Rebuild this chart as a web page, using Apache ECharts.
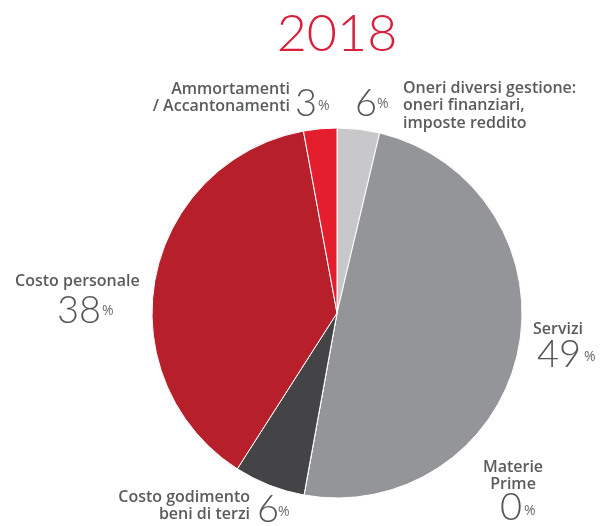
<!DOCTYPE html>
<html><head><meta charset="utf-8">
<script src="https://cdn.jsdelivr.net/npm/echarts@6/dist/echarts.min.js"></script>
<style>html,body{margin:0;padding:0;background:#fff}#c{width:600px;height:526px}</style>
</head><body><div id="c"></div>
<script>
var title = '2018';
var categories = ['Oneri diversi gestione', 'Servizi', 'Materie Prime', 'Costo godimento beni di terzi', 'Costo personale', 'Ammortamenti / Accantonamenti'];
var labelLines = [
  ['Oneri diversi gestione:', 'oneri finanziari,', 'imposte reddito'],
  ['Servizi'],
  ['Materie', 'Prime'],
  ['Costo godimento', 'beni di terzi'],
  ['Costo personale'],
  ['Ammortamenti', '/ Accantonamenti']
];
var values = [3.7, 49.1, 0, 6.2, 38.0, 2.9];
var shownPercent = [6, 49, 0, 6, 38, 3];
var colors = ['#c8c8ca', '#949598', '#a0a0a2', '#444446', '#b71f2b', '#e41e2d'];

var chart = echarts.init(document.getElementById('c'));
var LF = '"Open Sans", sans-serif';
var labelStyle = {fontFamily: LF, fontWeight: 600, fontSize: 16, fill: '#5a5b5d', lineHeight: 17};
var numStyle = {fontFamily: 'Lato, "Open Sans", sans-serif', fontWeight: 300, fontSize: 38, fill: '#555658'};
var pctStyle = {fontFamily: LF, fontWeight: 400, fontSize: 14, fill: '#6a6b6d'};

function txt(x, y, text, style, align, vAlign) {
  return {type: 'text', x: x, y: y, style: Object.assign({text: text, align: align || 'left', verticalAlign: vAlign || 'middle'}, style), z: 10};
}
// text anchors: [label x, label y, label align, number x, number y, pct x, pct y]
var anchors = [
  [403, 88, 'left', 355, 104, 377, 104],
  [533, 329, 'left', 537, 355, 584, 357],
  [513, 467, 'center', 500, 508, 524, 511],
  [250, 497, 'right', 257, 510, 278, 512],
  [15, 281, 'left', 57, 311, 102, 311],
  [290, 89, 'right', 295, 104, 318, 106]
];
var graphics = [];
categories.forEach(function (c, i) {
  var a = anchors[i];
  var lines = labelLines[i];
  lines.forEach(function (ln, k) {
    graphics.push(txt(a[0], a[1] + k * 17.5, ln, labelStyle, a[2]));
  });
  graphics.push(txt(a[3], a[4], String(shownPercent[i]), numStyle, 'left'));
  graphics.push(txt(a[5], a[6], '%', pctStyle, 'left'));
});
graphics.push({type: 'text', x: 337, y: 34, z: 10, style: {text: title, align: 'center', verticalAlign: 'middle', fontFamily: 'Lato, "Open Sans", sans-serif', fontWeight: 300, fontSize: 52, fill: '#d9203a'}});

chart.setOption({
  animation: false,
  series: [{
    type: 'pie',
    center: [337, 313],
    radius: [0, 185],
    startAngle: 90,
    clockwise: true,
    minAngle: 0,
    label: {show: false},
    labelLine: {show: false},
    itemStyle: {borderColor: '#fff', borderWidth: 1},
    emphasis: {disabled: true},
    data: categories.map(function (c, i) { return {name: c, value: values[i], itemStyle: {color: colors[i]}}; })
  }],
  graphic: graphics
});
</script></body></html>
